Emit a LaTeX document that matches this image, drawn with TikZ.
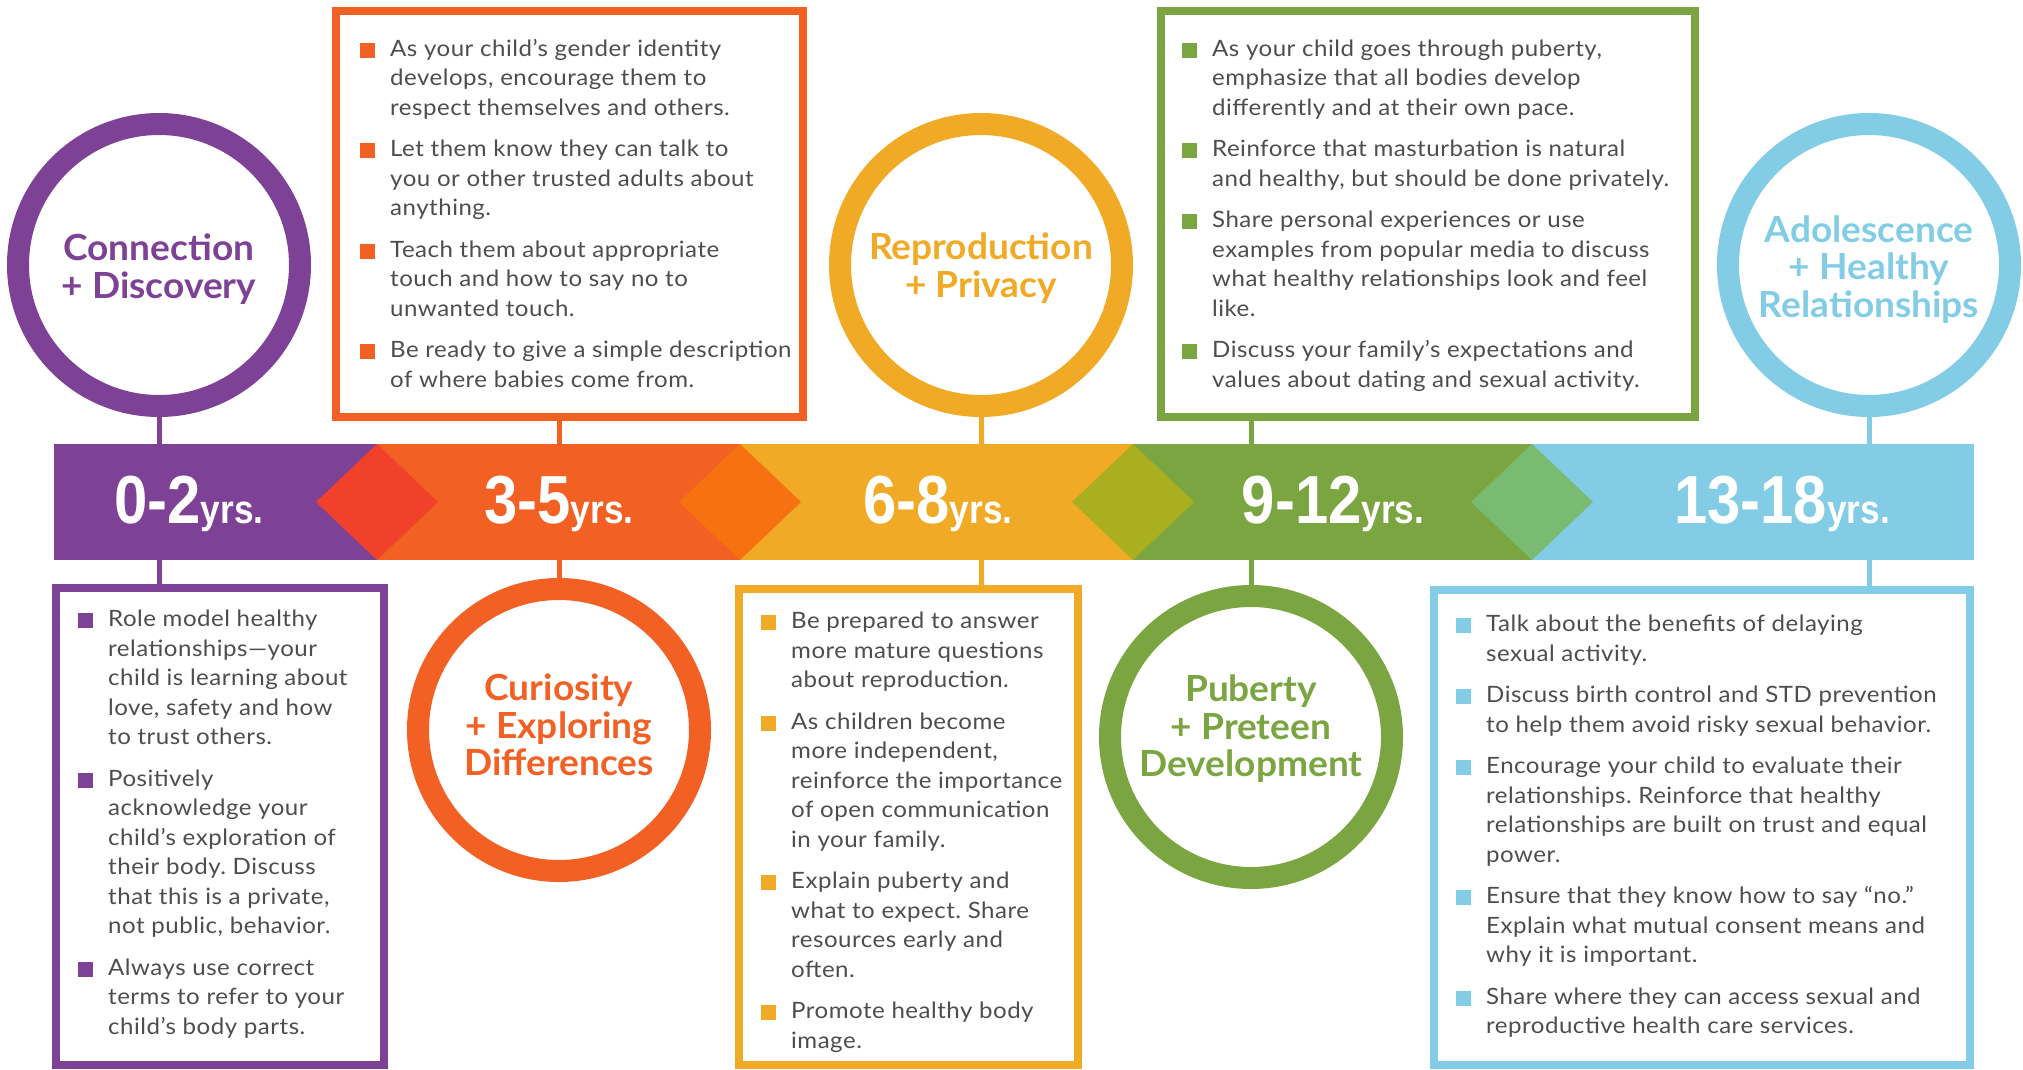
\documentclass[tikz,border=0pt]{standalone}
\usepackage{fontspec}
\setmainfont{Lato}
\newfontfamily\agefont[FakeStretch=0.88]{Liberation Sans}
\newfontfamily\titlefont[FakeStretch=1.03]{Lato}
\newfontfamily\tipfont[FakeStretch=1.07, LetterSpace=2.2]{Lato}
\usetikzlibrary{shapes.geometric}
\definecolor{cpurple}{HTML}{7D4196}
\definecolor{corange}{HTML}{F26024}
\definecolor{cgold}{HTML}{F0AA25}
\definecolor{cgreen}{HTML}{7AA540}
\definecolor{cblue}{HTML}{82CDE5}
\definecolor{dred}{HTML}{F1412B}
\definecolor{dorange}{HTML}{F87110}
\definecolor{dolive}{HTML}{AAAF1F}
\definecolor{dgreen}{HTML}{7ABB72}
\definecolor{textgray}{HTML}{4D4D4D}
\newcommand{\yrstext}{{\fontsize{40}{40}\selectfont yrs.}}
\newcommand{\itm}[1]{\strut\llap{\textcolor{#1}{\rule[-1.5pt]{15pt}{15pt}}\hspace{15pt}}}
\frenchspacing

\begin{document}
\begin{tikzpicture}[x=1pt, y=-1pt,
	seg/.style={rectangle, inner sep=0pt, outer sep=0pt, minimum height=116},
	gem/.style={diamond, inner sep=0pt, outer sep=0pt, minimum width=122, minimum height=116},
	age/.style={text=white, font=\agefont\bfseries\fontsize{68}{68}\selectfont, inner sep=0pt, anchor=base},
	ring/.style={circle, line width=22pt, minimum size=282, inner sep=0pt, outer sep=0pt},
	title/.style={align=center, inner sep=0pt, font=\titlefont\bfseries\fontsize{36}{37.5}\selectfont},
	panel/.style={rectangle, line width=8pt, inner sep=0pt, outer sep=0pt},
	tips/.style={anchor=north west, align=left, inner sep=0pt, text=textgray, font=\tipfont\frenchspacing\fontsize{22.5}{29.5}\selectfont},
	stem/.style={line width=5pt}]
	\useasboundingbox (0,0) rectangle (2023,1070);
	\foreach \n/\xa/\xb/\c in {1/54/377/cpurple, 2/377/740/corange, 3/740/1133/cgold, 4/1133/1532/cgreen, 5/1532/1974/cblue}{
		\node[seg, fill=\c, minimum width=\xb-\xa] (seg\n) at ({(\xa+\xb)/2}, 502) {};
	}
	\foreach \n/\x/\c in {1/377/dred, 2/740/dorange, 3/1133/dolive, 4/1532/dgreen}{
		\node[gem, fill=\c] (gem\n) at (\x, 502) {};
	}
	\foreach \n/\x/\a in {1/189/0-2, 2/559/3-5, 3/938/6-8, 4/1333/9-12, 5/1782/13-18}{
		\node[age] (age\n) at (\x, 523) {\a\yrstext};
	}
	\node[ring, draw=cpurple] (circ1) at (159, 265) {};
	\node[ring, draw=corange] (circ2) at (559, 730) {};
	\node[ring, draw=cgold] (circ3) at (981, 265) {};
	\node[ring, draw=cgreen] (circ4) at (1251, 737) {};
	\node[ring, draw=cblue] (circ5) at (1869, 265) {};
	\node[title, text=cpurple] (title1) at (159, 269) {Connection\\+ Discovery};
	\node[title, text=corange] (title2) at (559, 725) {Curiosity\\+ Exploring\\Differences};
	\node[title, text=cgold] (title3) at (981, 268) {Reproduction\\+ Privacy};
	\node[title, text=cgreen] (title4) at (1251, 729) {Puberty\\+ Preteen\\Development};
	\node[title, text=cblue] (title5) at (1869, 269.5) {Adolescence\\+ Healthy\\Relationships};
	\node[panel, draw=cpurple, minimum width=328, minimum height=477] (box1) at (220, 826.5) {};
	\node[panel, draw=corange, minimum width=467, minimum height=406] (box2) at (569.5, 214) {};
	\node[panel, draw=cgold, minimum width=339, minimum height=476] (box3) at (908.5, 827) {};
	\node[panel, draw=cgreen, minimum width=534, minimum height=406] (box4) at (1428, 214) {};
	\node[panel, draw=cblue, minimum width=536, minimum height=475] (box5) at (1702, 827.5) {};
	\foreach \n/\c in {1/cpurple, 3/cgold, 5/cblue}{
		\draw[stem, \c] (circ\n.south) -- (circ\n |- seg\n.north);
		\draw[stem, \c] (circ\n |- seg\n.south) -- (circ\n |- box\n.north);
	}
	\foreach \n/\c in {2/corange, 4/cgreen}{
		\draw[stem, \c] (circ\n |- box\n.south) -- (circ\n |- seg\n.north);
		\draw[stem, \c] (circ\n |- seg\n.south) -- (circ\n.north);
	}
	\node[tips] (txt1) at (108, 606) {\itm{cpurple}Role model healthy\\
		relationships—your\\
		child is learning about\\
		love, safety and how\\
		to trust others.\\[12pt]
		\itm{cpurple}Positively\\
		acknowledge your\\
		child’s exploration of\\
		their body. Discuss\\
		that this is a private,\\
		not public, behavior.\\[12pt]
		\itm{cpurple}Always use correct\\
		terms to refer to your\\
		child’s body parts.};
	\node[tips] (txt2) at (390, 35.5) {\itm{corange}As your child’s gender identity\\
		develops, encourage them to\\
		respect themselves and others.\\[12pt]
		\itm{corange}Let them know they can talk to\\
		you or other trusted adults about\\
		anything.\\[12pt]
		\itm{corange}Teach them about appropriate\\
		touch and how to say no to\\
		unwanted touch.\\[12pt]
		\itm{corange}Be ready to give a simple description\\
		of where babies come from.};
	\node[tips] (txt3) at (791, 608) {\itm{cgold}Be prepared to answer\\
		more mature questions\\
		about reproduction.\\[12pt]
		\itm{cgold}As children become\\
		more independent,\\
		reinforce the importance\\
		of open communication\\
		in your family.\\[12pt]
		\itm{cgold}Explain puberty and\\
		what to expect. Share\\
		resources early and\\
		often.\\[12pt]
		\itm{cgold}Promote healthy body\\
		image.};
	\node[tips] (txt4) at (1212, 35.5) {\itm{cgreen}As your child goes through puberty,\\
		emphasize that all bodies develop\\
		differently and at their own pace.\\[12pt]
		\itm{cgreen}Reinforce that masturbation is natural\\
		and healthy, but should be done privately.\\[12pt]
		\itm{cgreen}Share personal experiences or use\\
		examples from popular media to discuss\\
		what healthy relationships look and feel\\
		like.\\[12pt]
		\itm{cgreen}Discuss your family’s expectations and\\
		values about dating and sexual activity.};
	\node[tips] (txt5) at (1486, 611) {\itm{cblue}Talk about the benefits of delaying\\
		sexual activity.\\[12pt]
		\itm{cblue}Discuss birth control and STD prevention\\
		to help them avoid risky sexual behavior.\\[12pt]
		\itm{cblue}Encourage your child to evaluate their\\
		relationships. Reinforce that healthy\\
		relationships are built on trust and equal\\
		power.\\[12pt]
		\itm{cblue}Ensure that they know how to say “no.”\\
		Explain what mutual consent means and\\
		why it is important.\\[12pt]
		\itm{cblue}Share where they can access sexual and\\
		reproductive health care services.};
\end{tikzpicture}
\end{document}
